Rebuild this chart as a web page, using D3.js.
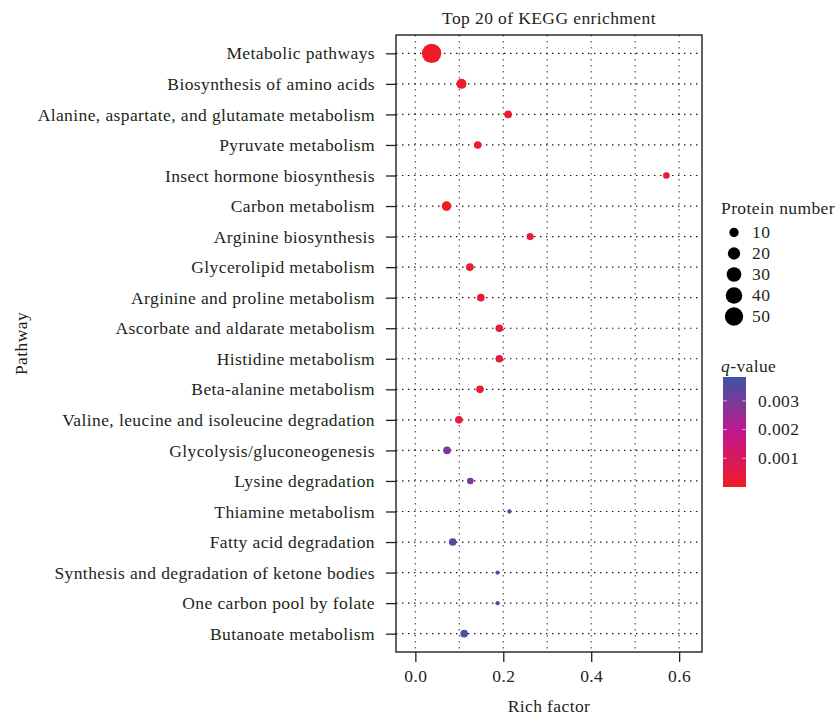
<!DOCTYPE html>
<html>
<head>
<meta charset="utf-8">
<script src="https://cdn.jsdelivr.net/npm/d3@7"></script>
<style>
  body { margin: 0; background: #fff; }
  svg { display: block; }
</style>
</head>
<body>
<script>
const pathways = [
  "Metabolic pathways",
  "Biosynthesis of amino acids",
  "Alanine, aspartate, and glutamate metabolism",
  "Pyruvate metabolism",
  "Insect hormone biosynthesis",
  "Carbon metabolism",
  "Arginine biosynthesis",
  "Glycerolipid metabolism",
  "Arginine and proline metabolism",
  "Ascorbate and aldarate metabolism",
  "Histidine metabolism",
  "Beta-alanine metabolism",
  "Valine, leucine and isoleucine degradation",
  "Glycolysis/gluconeogenesis",
  "Lysine degradation",
  "Thiamine metabolism",
  "Fatty acid degradation",
  "Synthesis and degradation of ketone bodies",
  "One carbon pool by folate",
  "Butanoate metabolism",
];
const richFactor = [
  0.037, 0.105, 0.211, 0.142, 0.571, 0.071, 0.261, 0.124, 0.149, 0.191,
  0.191, 0.147, 0.099, 0.072, 0.125, 0.214, 0.085, 0.187, 0.187, 0.111,
];
const proteinNumber = [57, 12, 6, 6, 4, 11, 5, 6, 6, 6, 6, 6, 6, 6, 4, 1, 6, 1, 1, 6];
const qValue = [
  0.00000001, 0.0001, 0.0002, 0.0002, 0.0003, 0.0001, 0.0003, 0.0002, 0.0003, 0.0003,
  0.0003, 0.0003, 0.0004, 0.0029, 0.0029, 0.003, 0.0034, 0.0038, 0.0038, 0.0037,
];
const xTicks = [0, 0.2, 0.4, 0.6];
const xMinorTicks = [0.1, 0.3, 0.5];
const sizeBreaks = [10, 20, 30, 40, 50];
const qBreaks = [0.001, 0.002, 0.003];

const font = "'Liberation Serif', 'Times New Roman', serif";
const fontSize = 17.5;
const letterSpacing = 0.4;
const ink = "#231f20";
const width = 840;
const height = 716;
const panel = { left: 396, right: 702, top: 35, bottom: 652 };

const dataset = pathways.map((name, i) => ({
  name,
  rich: richFactor[i],
  count: proteinNumber[i],
  q: qValue[i],
}));

const xScale = d3
  .scaleLinear()
  .domain([-0.044, 0.652])
  .range([panel.left, panel.right]);

const yScale = d3
  .scalePoint()
  .domain(pathways)
  .range([panel.top, panel.bottom])
  .padding(0.6);

const rScale = d3.scaleSqrt().domain([0, 50]).range([1.01, 9.15]);

const qDomain = [0, 0.0019, 0.00383];
const colorScale = d3
  .scaleLinear()
  .domain(qDomain)
  .range(["#EE1D25", "#C2168C", "#3D55A4"]);

const svg = d3
  .select("body")
  .append("svg")
  .attr("width", width)
  .attr("height", height)
  .attr("font-family", font)
  .attr("letter-spacing", letterSpacing);

// title
svg
  .append("text")
  .attr("x", (panel.left + panel.right) / 2)
  .attr("y", 24)
  .attr("text-anchor", "middle")
  .attr("font-size", fontSize)
  .attr("fill", ink)
  .text("Top 20 of KEGG enrichment");

// grid
const gridGroup = svg.append("g");

gridGroup
  .selectAll("line.vgrid")
  .data([...xTicks, ...xMinorTicks])
  .enter()
  .append("line")
  .attr("x1", (d) => xScale(d))
  .attr("x2", (d) => xScale(d))
  .attr("y1", panel.top)
  .attr("y2", panel.bottom)
  .attr("stroke", "#555")
  .attr("stroke-width", 1.2)
  .attr("stroke-dasharray", "1.4,4.6");

gridGroup
  .selectAll("line.hgrid")
  .data(pathways)
  .enter()
  .append("line")
  .attr("x1", panel.left)
  .attr("x2", panel.right)
  .attr("y1", (d) => yScale(d))
  .attr("y2", (d) => yScale(d))
  .attr("stroke", "#111")
  .attr("stroke-width", 1.2)
  .attr("stroke-dasharray", "1.4,4.6");

// points
svg
  .append("g")
  .selectAll("circle")
  .data(dataset)
  .enter()
  .append("circle")
  .attr("cx", (d) => xScale(d.rich))
  .attr("cy", (d) => yScale(d.name))
  .attr("r", (d) => rScale(d.count))
  .attr("fill", (d) => colorScale(d.q));

// panel border
svg
  .append("rect")
  .attr("x", panel.left)
  .attr("y", panel.top)
  .attr("width", panel.right - panel.left)
  .attr("height", panel.bottom - panel.top)
  .attr("fill", "none")
  .attr("stroke", ink)
  .attr("stroke-width", 1.4);

// axes
const xAxis = d3
  .axisBottom(xScale)
  .tickValues(xTicks)
  .tickFormat(d3.format(".1f"))
  .tickSize(10)
  .tickPadding(8);

const yAxis = d3.axisLeft(yScale).tickSize(10).tickPadding(11);

const xAxisGroup = svg
  .append("g")
  .attr("transform", `translate(0 ${panel.bottom})`)
  .call(xAxis);

const yAxisGroup = svg
  .append("g")
  .attr("transform", `translate(${panel.left} 0)`)
  .call(yAxis);

[xAxisGroup, yAxisGroup].forEach((g) => {
  g.select(".domain").remove();
  g.selectAll("line").attr("stroke", ink).attr("stroke-width", 1.3);
  g.selectAll("text")
    .attr("font-family", font)
    .attr("font-size", fontSize)
    .attr("fill", ink);
});

// axis titles
svg
  .append("text")
  .attr("x", (panel.left + panel.right) / 2)
  .attr("y", 712)
  .attr("text-anchor", "middle")
  .attr("font-size", fontSize)
  .attr("fill", ink)
  .text("Rich factor");

svg
  .append("text")
  .attr("transform", `translate(27 ${(panel.top + panel.bottom) / 2}) rotate(-90)`)
  .attr("text-anchor", "middle")
  .attr("font-size", fontSize)
  .attr("fill", ink)
  .text("Pathway");

// size legend
const sizeLegend = svg.append("g").attr("transform", "translate(721 0)");

sizeLegend
  .append("text")
  .attr("x", 0)
  .attr("y", 214)
  .attr("font-size", fontSize)
  .attr("fill", ink)
  .text("Protein number");

const legendY = d3.scalePoint().domain(sizeBreaks).range([232.5, 316.5]);

const sizeKeys = sizeLegend
  .selectAll("g.key")
  .data(sizeBreaks)
  .enter()
  .append("g")
  .attr("transform", (d) => `translate(0 ${legendY(d)})`);

sizeKeys
  .append("circle")
  .attr("cx", 13)
  .attr("r", (d) => rScale(d))
  .attr("fill", "#000");

sizeKeys
  .append("text")
  .attr("x", 31)
  .attr("dy", "0.33em")
  .attr("font-size", fontSize)
  .attr("fill", ink)
  .text((d) => d);

// colour legend
const colorLegend = svg.append("g").attr("transform", "translate(721 0)");

const qTitle = colorLegend
  .append("text")
  .attr("x", 0)
  .attr("y", 372)
  .attr("font-size", fontSize)
  .attr("fill", ink);
qTitle.append("tspan").attr("font-style", "italic").text("q");
qTitle.append("tspan").text("-value");

const barTop = 377;
const barBottom = 487;
const barX = 2;
const barW = 23;
const qMin = qDomain[0];
const qMax = qDomain[qDomain.length - 1];

const qScaleBar = d3.scaleLinear().domain([qMin, qMax]).range([barBottom, barTop]);

const gradient = svg
  .append("defs")
  .append("linearGradient")
  .attr("id", "qgrad")
  .attr("x1", 0)
  .attr("y1", 1)
  .attr("x2", 0)
  .attr("y2", 0);

gradient
  .selectAll("stop")
  .data(d3.range(0, 1.0001, 0.05))
  .enter()
  .append("stop")
  .attr("offset", (t) => t)
  .attr("stop-color", (t) => colorScale(qMin + t * (qMax - qMin)));

colorLegend
  .append("rect")
  .attr("x", barX)
  .attr("y", barTop)
  .attr("width", barW)
  .attr("height", barBottom - barTop)
  .attr("fill", "url(#qgrad)");

const qTicks = colorLegend
  .selectAll("g.qtick")
  .data(qBreaks)
  .enter()
  .append("g")
  .attr("transform", (d) => `translate(0 ${qScaleBar(d)})`);

qTicks
  .append("line")
  .attr("x1", barX)
  .attr("x2", barX + 4)
  .attr("stroke", "#fff")
  .attr("stroke-opacity", 0.6);

qTicks
  .append("line")
  .attr("x1", barX + barW - 4)
  .attr("x2", barX + barW)
  .attr("stroke", "#fff")
  .attr("stroke-opacity", 0.6);

qTicks
  .append("text")
  .attr("x", 37)
  .attr("dy", "0.33em")
  .attr("font-size", fontSize)
  .attr("fill", ink)
  .text(d3.format(".3f"));
</script>
</body>
</html>
